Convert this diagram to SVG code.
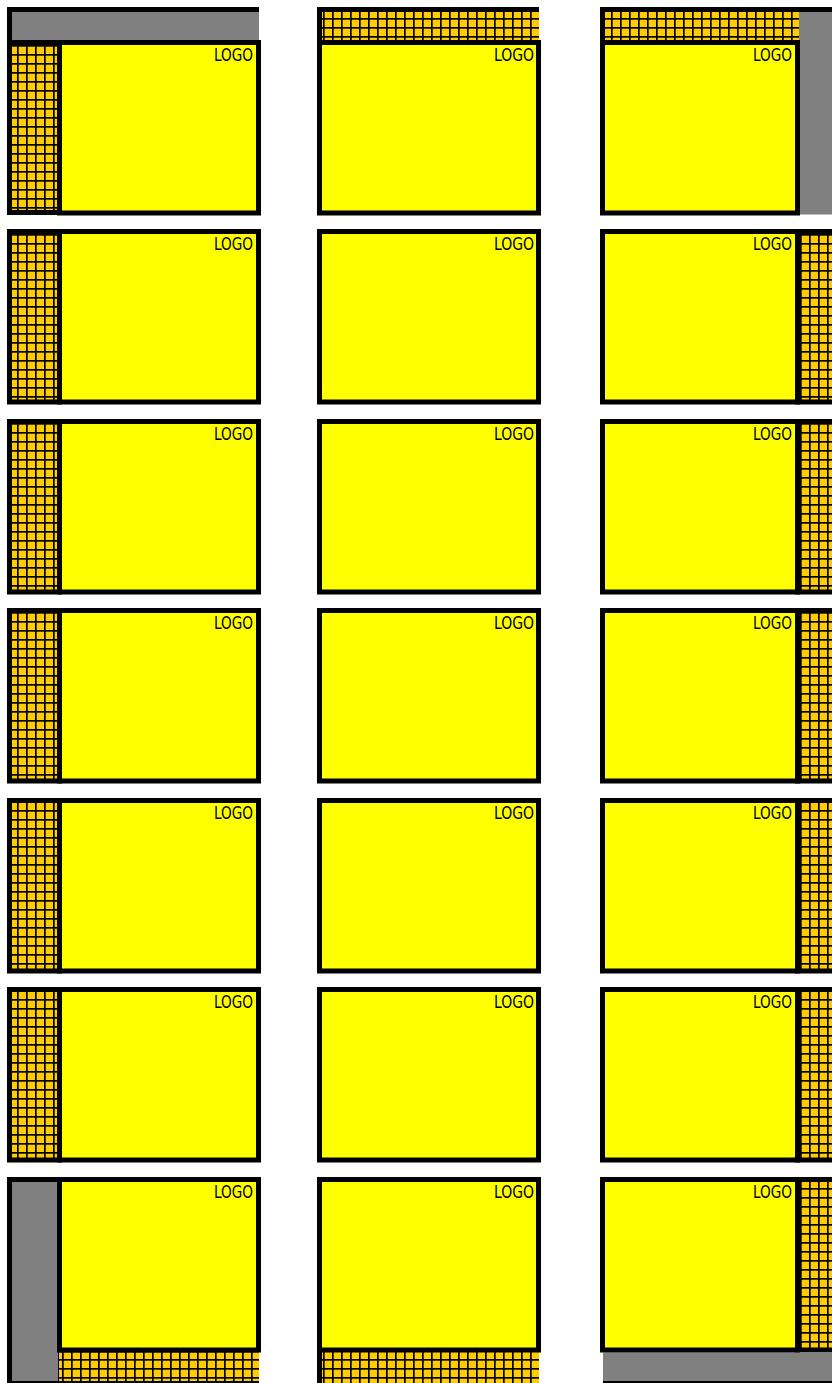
<svg xmlns="http://www.w3.org/2000/svg" width="832" height="1383" viewBox="0 0 832 1383">
<defs>
<pattern id="hatch" patternUnits="userSpaceOnUse" x="-1" y="0" width="9" height="9">
<rect width="9" height="9" fill="#FFCC00"/>
<rect x="0" y="0" width="1.7" height="9" fill="#000"/>
<rect x="0" y="0" width="9" height="1.7" fill="#000"/>
</pattern>
</defs>
<style>
.y{fill:#FFFF00;stroke:#000;stroke-width:5}
.h{fill:url(#hatch)}
.hs{fill:url(#hatch);stroke:#000;stroke-width:5}
.g{fill:#808080}
.k{fill:#000}
.t{font-family:"DejaVu Sans Condensed","DejaVu Sans",sans-serif;font-size:18px;fill:#000}
</style>
<rect width="832" height="1383" fill="#FFFFFF"/>
<g id="connectors"/>

<g id="p-1-1">
<rect class="k" x="7" y="7" width="252" height="208"/>
<rect class="g" x="12" y="12" width="247" height="28"/>
<rect class="h" x="12" y="45" width="45" height="165"/>
<rect class="y" x="59.5" y="42.5" width="199" height="170.5"/>
<text class="t" x="214" y="61" textLength="39" lengthAdjust="spacingAndGlyphs">LOGO</text>
</g>
<g id="p-1-2">
<rect class="hs" x="9.5" y="231.5" width="50" height="170.5"/>
<rect class="y" x="59.5" y="231.5" width="199" height="170.5"/>
<text class="t" x="214" y="250" textLength="39" lengthAdjust="spacingAndGlyphs">LOGO</text>
</g>
<g id="p-1-3">
<rect class="hs" x="9.5" y="421.5" width="50" height="170.5"/>
<rect class="y" x="59.5" y="421.5" width="199" height="170.5"/>
<text class="t" x="214" y="440" textLength="39" lengthAdjust="spacingAndGlyphs">LOGO</text>
</g>
<g id="p-1-4">
<rect class="hs" x="9.5" y="610.5" width="50" height="170.5"/>
<rect class="y" x="59.5" y="610.5" width="199" height="170.5"/>
<text class="t" x="214" y="629" textLength="39" lengthAdjust="spacingAndGlyphs">LOGO</text>
</g>
<g id="p-1-5">
<rect class="hs" x="9.5" y="800.5" width="50" height="170.5"/>
<rect class="y" x="59.5" y="800.5" width="199" height="170.5"/>
<text class="t" x="214" y="819" textLength="39" lengthAdjust="spacingAndGlyphs">LOGO</text>
</g>
<g id="p-1-6">
<rect class="hs" x="9.5" y="989.5" width="50" height="170.5"/>
<rect class="y" x="59.5" y="989.5" width="199" height="170.5"/>
<text class="t" x="214" y="1008" textLength="39" lengthAdjust="spacingAndGlyphs">LOGO</text>
</g>
<g id="p-1-7">
<rect class="k" x="7" y="1177" width="252" height="210"/>
<rect class="g" x="12" y="1182" width="46" height="199"/>
<rect class="h" x="59" y="1352.5" width="200" height="28.5"/>
<rect class="y" x="59.5" y="1179.5" width="199" height="170.5"/>
<text class="t" x="214" y="1198" textLength="39" lengthAdjust="spacingAndGlyphs">LOGO</text>
</g>

<g id="p-2-1">
<rect class="k" x="317" y="7" width="222" height="38"/>
<rect class="h" x="322" y="12" width="217" height="28"/>
<rect class="y" x="319.5" y="42.5" width="219" height="170.5"/>
<text class="t" x="494" y="61" textLength="40" lengthAdjust="spacingAndGlyphs">LOGO</text>
</g>
<g id="p-2-2">
<rect class="y" x="319.5" y="231.5" width="219" height="170.5"/>
<text class="t" x="494" y="250" textLength="40" lengthAdjust="spacingAndGlyphs">LOGO</text>
</g>
<g id="p-2-3">
<rect class="y" x="319.5" y="421.5" width="219" height="170.5"/>
<text class="t" x="494" y="440" textLength="40" lengthAdjust="spacingAndGlyphs">LOGO</text>
</g>
<g id="p-2-4">
<rect class="y" x="319.5" y="610.5" width="219" height="170.5"/>
<text class="t" x="494" y="629" textLength="40" lengthAdjust="spacingAndGlyphs">LOGO</text>
</g>
<g id="p-2-5">
<rect class="y" x="319.5" y="800.5" width="219" height="170.5"/>
<text class="t" x="494" y="819" textLength="40" lengthAdjust="spacingAndGlyphs">LOGO</text>
</g>
<g id="p-2-6">
<rect class="y" x="319.5" y="989.5" width="219" height="170.5"/>
<text class="t" x="494" y="1008" textLength="40" lengthAdjust="spacingAndGlyphs">LOGO</text>
</g>
<g id="p-2-7">
<rect class="k" x="317" y="1340" width="5" height="43"/>
<rect class="h" x="322" y="1352" width="217" height="31"/>
<rect class="y" x="319.5" y="1179.5" width="219" height="170.5"/>
<text class="t" x="494" y="1198" textLength="40" lengthAdjust="spacingAndGlyphs">LOGO</text>
</g>

<g id="p-3-1">
<rect class="k" x="600" y="7" width="232" height="38"/>
<rect class="h" x="605" y="12" width="194" height="28"/>
<rect class="g" x="799" y="12" width="33" height="202.5"/>
<rect class="y" x="602.5" y="42.5" width="195" height="170.5"/>
<text class="t" x="753" y="61" textLength="39" lengthAdjust="spacingAndGlyphs">LOGO</text>
</g>
<g id="p-3-2">
<rect class="hs" x="797.5" y="231.5" width="50" height="170.5"/>
<rect class="y" x="602.5" y="231.5" width="195" height="170.5"/>
<text class="t" x="753" y="250" textLength="39" lengthAdjust="spacingAndGlyphs">LOGO</text>
</g>
<g id="p-3-3">
<rect class="hs" x="797.5" y="421.5" width="50" height="170.5"/>
<rect class="y" x="602.5" y="421.5" width="195" height="170.5"/>
<text class="t" x="753" y="440" textLength="39" lengthAdjust="spacingAndGlyphs">LOGO</text>
</g>
<g id="p-3-4">
<rect class="hs" x="797.5" y="610.5" width="50" height="170.5"/>
<rect class="y" x="602.5" y="610.5" width="195" height="170.5"/>
<text class="t" x="753" y="629" textLength="39" lengthAdjust="spacingAndGlyphs">LOGO</text>
</g>
<g id="p-3-5">
<rect class="hs" x="797.5" y="800.5" width="50" height="170.5"/>
<rect class="y" x="602.5" y="800.5" width="195" height="170.5"/>
<text class="t" x="753" y="819" textLength="39" lengthAdjust="spacingAndGlyphs">LOGO</text>
</g>
<g id="p-3-6">
<rect class="hs" x="797.5" y="989.5" width="50" height="170.5"/>
<rect class="y" x="602.5" y="989.5" width="195" height="170.5"/>
<text class="t" x="753" y="1008" textLength="39" lengthAdjust="spacingAndGlyphs">LOGO</text>
</g>
<g id="p-3-7">
<rect class="hs" x="797.5" y="1179.5" width="50" height="170.5"/>
<rect class="g" x="603" y="1352.5" width="229" height="28.5"/>
<rect class="k" x="603" y="1381" width="229" height="5"/>
<rect class="y" x="602.5" y="1179.5" width="195" height="170.5"/>
<text class="t" x="753" y="1198" textLength="39" lengthAdjust="spacingAndGlyphs">LOGO</text>
</g>
</svg>
